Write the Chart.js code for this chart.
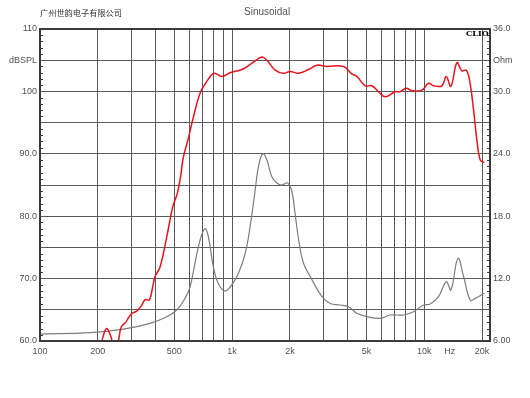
<!DOCTYPE html>
<html>
<head>
<meta charset="utf-8">
<script src="https://cdn.jsdelivr.net/npm/chart.js@4/dist/chart.umd.min.js"></script>
<style>
  body { margin: 0; background: #fff; }
  #wrap { position: relative; width: 530px; height: 398px; }
  .txt { position: absolute; white-space: nowrap; font-family: "Liberation Sans", Arial, sans-serif; }
  #company { left: 40px; top: 6px; font-family: "Noto Sans CJK SC", sans-serif; font-size: 8.2px; color: #333; }
  #mode { left: 244px; top: 6px; font-size: 10px; color: #555; }
  #clio { left: 466px; top: 28px; font-family: "DejaVu Serif", "Liberation Serif", serif; font-weight: bold; font-size: 8px; color: #000; }
</style>
</head>
<body>
<div id="wrap">
  <canvas id="chart" width="530" height="398"></canvas>
  <div class="txt" id="company">广州世韵电子有限公司</div>
  <div class="txt" id="mode">Sinusoidal</div>
  <div class="txt" id="clio">CLIO</div>
</div>
<script>
// ==========================================
// Data
// ==========================================

// SPL curve (red, left axis, dB)
const splFreq = [206, 212, 222, 232, 240, 248, 256, 263, 270, 278, 290, 300, 319, 335, 352, 371, 385, 397,
  422, 457, 491, 519, 540, 558, 592, 629, 681, 738, 806, 884, 976, 1123, 1266, 1427, 1517, 1675, 1850,
  2005, 2220, 2498, 2762, 3113, 3800, 4200, 4460, 4930, 5340, 5780, 6265, 7060, 7480, 8060, 8630, 9730,
  10530, 11190, 12360, 13020, 13770, 14790, 15700, 16550, 17220, 18070, 18800, 19570, 20530];
const splDb = [59, 60.5, 62, 61, 59.5, 58.5, 60, 62, 62.6, 62.9, 63.8, 64.4, 64.8, 65.5, 66.6, 66.6, 68.5, 70.3,
  71.9, 76.7, 81.5, 83.7, 86.5, 89.5, 92.5, 95.9, 99.7, 101.6, 102.9, 102.4, 103.0, 103.5, 104.5, 105.5, 105.0, 103.4, 102.9,
  103.2, 102.9, 103.5, 104.2, 104.0, 104.0, 102.8, 102.4, 100.9, 100.9, 99.95, 99.15, 99.95, 99.95, 100.5, 100.1, 100.2,
  101.3, 100.9, 100.9, 102.4, 100.8, 104.6, 103.3, 103.4, 101.8, 97.0, 92.2, 89.0, 88.6];

// Impedance curve (gray, right axis, Ohm)
const impFreq = [100, 182, 272, 374, 457, 515, 569, 604, 641, 681, 723, 753, 799, 849, 919, 995, 1078, 1169,
  1241, 1318, 1372, 1445, 1517, 1610, 1710, 1815, 1942, 2045, 2128, 2230, 2350, 2550, 2930, 3240, 3650,
  4035, 4460, 5030, 5900, 6650, 7800, 8790, 9920, 10740, 11870, 13020, 13770, 14980, 16030, 17360, 18440, 20530];
const impOhm = [6.67, 6.8, 7.15, 7.7, 8.34, 8.98, 10.1, 11.2, 13.5, 15.7, 16.8, 16.0, 13.1, 11.5, 10.8, 11.4, 12.5, 14.4,
  17.0, 20.5, 22.8, 24.0, 23.4, 21.8, 21.2, 21.0, 21.2, 20.4, 18.2, 15.5, 13.5, 12.2, 10.3, 9.6, 9.46,
  9.3, 8.66, 8.34, 8.18, 8.5, 8.5, 8.82, 9.46, 9.56, 10.26, 11.7, 10.9, 13.95, 12.2, 9.94, 10.1, 10.6];

// X axis grid lines and labels
const xGrid = [100, 200, 300, 400, 500, 600, 700, 800, 900, 1000, 2000, 3000, 4000, 5000, 6000, 7000, 8000, 9000, 10000, 20000];
const xLabelVals = [100, 200, 500, 1000, 2000, 5000, 10000, 13600, 20000];
const xLabelText = ['100', '200', '500', '1k', '2k', '5k', '10k', 'Hz', '20k'];

// Y axis labels
const yLeftVals = [110, 105, 100, 90, 80, 70, 60];
const yLeftText = ['110', 'dBSPL', '100', '90.0', '80.0', '70.0', '60.0'];
const yRightVals = [36, 33, 30, 24, 18, 12, 6];
const yRightText = ['36.0', 'Ohm', '30.0', '24.0', '18.0', '12.0', '6.00'];

// ==========================================
// Chart
// ==========================================
const GRID = '#5a5a5a';
const TXT = '#505050';
const FONT = { family: '"Liberation Sans", Arial, sans-serif', size: 9 };

const labelFor = (vals, texts, v) => {
  const i = vals.findIndex(x => Math.abs(x - v) < 1e-6);
  return i >= 0 ? texts[i] : '';
};

// frame + small inner ticks on the y axes
const framePlugin = {
  id: 'frame',
  afterDraw(chart) {
    const { ctx, chartArea: a, scales } = chart;
    ctx.save();
    ctx.strokeStyle = '#3a3a3a';
    ctx.lineWidth = 1;
    for (let i = 61; i < 110; i++) {
      if (i % 5 === 0) continue;
      const y = Math.round(scales.y.getPixelForValue(i)) + 0.5;
      ctx.beginPath(); ctx.moveTo(a.left, y); ctx.lineTo(a.left + 3, y); ctx.stroke();
    }
    for (let i = 1; i < 50; i++) {
      if (i % 5 === 0) continue;
      const y = Math.round(scales.y2.getPixelForValue(6 + i * 0.6)) + 0.5;
      ctx.beginPath(); ctx.moveTo(a.right - 3, y); ctx.lineTo(a.right, y); ctx.stroke();
    }
    ctx.lineWidth = 2;
    ctx.strokeRect(a.left, a.top, a.right - a.left, a.bottom - a.top);
    ctx.restore();
  }
};

new Chart(document.getElementById('chart'), {
  type: 'line',
  data: {
    datasets: [
      {
        label: 'SPL',
        data: splFreq.map((f, i) => ({ x: f, y: splDb[i] })),
        yAxisID: 'y',
        borderColor: '#e8141c',
        borderWidth: 1.5,
        pointRadius: 0,
        tension: 0.4
      },
      {
        label: 'Impedance',
        data: impFreq.map((f, i) => ({ x: f, y: impOhm[i] })),
        yAxisID: 'y2',
        borderColor: '#7d7d7d',
        borderWidth: 1.2,
        pointRadius: 0,
        tension: 0.4
      }
    ]
  },
  options: {
    responsive: false,
    animation: false,
    layout: { padding: { top: 29, left: 0, right: 0, bottom: 0 } },
    plugins: { legend: { display: false }, tooltip: { enabled: false } },
    scales: {
      x: {
        type: 'logarithmic',
        min: 100,
        max: 22000,
        afterBuildTicks: (s) => {
          const all = [...new Set([...xGrid, ...xLabelVals])].sort((a, b) => a - b);
          s.ticks = all.map(v => ({ value: v }));
        },
        afterFit: (s) => { s.height = 57; },
        grid: {
          drawTicks: false,
          color: (c) => (c.tick && xGrid.includes(c.tick.value)) ? GRID : 'transparent',
          lineWidth: 1
        },
        border: { display: false },
        ticks: {
          autoSkip: false,
          maxRotation: 0,
          padding: 5,
          color: TXT,
          font: FONT,
          callback: (v) => labelFor(xLabelVals, xLabelText, v)
        }
      },
      y: {
        position: 'left',
        min: 60,
        max: 110,
        afterFit: (s) => { s.width = 40; },
        grid: { drawTicks: false, color: GRID, lineWidth: 1 },
        border: { display: false },
        ticks: {
          stepSize: 5,
          padding: 3,
          color: TXT,
          font: FONT,
          callback: (v) => labelFor(yLeftVals, yLeftText, v)
        }
      },
      y2: {
        position: 'right',
        min: 6,
        max: 36,
        afterFit: (s) => { s.width = 40; },
        grid: { display: false, drawTicks: false },
        border: { display: false },
        ticks: {
          stepSize: 3,
          padding: 3,
          color: TXT,
          font: FONT,
          callback: (v) => labelFor(yRightVals, yRightText, v)
        }
      }
    }
  },
  plugins: [framePlugin]
});
</script>
</body>
</html>
